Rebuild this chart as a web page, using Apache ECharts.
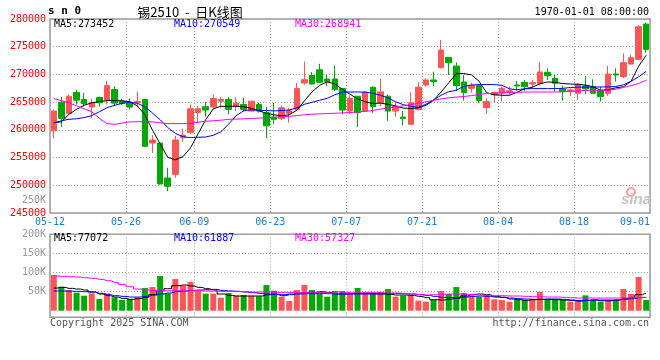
<!DOCTYPE html>
<html><head><meta charset="utf-8">
<script src="https://cdn.jsdelivr.net/npm/echarts@6/dist/echarts.min.js"></script>
<style>html,body{margin:0;padding:0;background:#fff}#c{width:660px;height:360px}</style>
</head><body><div id="c"></div>
<script>
const dates = ['05-12','05-13','05-14','05-15','05-16','05-19','05-20','05-21','05-22','05-23','05-26','05-27','05-28','05-29','05-30',
'06-03','06-04','06-05','06-06','06-09','06-10','06-11','06-12','06-13','06-16','06-17','06-18','06-19','06-20','06-23','06-24','06-25','06-26','06-27','06-30',
'07-01','07-02','07-03','07-04','07-07','07-08','07-09','07-10','07-11','07-14','07-15','07-16','07-17','07-18','07-21','07-22','07-23','07-24','07-25','07-28','07-29','07-30','07-31',
'08-01','08-04','08-05','08-06','08-07','08-08','08-11','08-12','08-13','08-14','08-15','08-18','08-19','08-20','08-21','08-22','08-25','08-26','08-27','08-28','08-29'];

const opens = [259820,265000,262980,266730,265480,264110,265830,265360,267260,265180,
265000,264880,265480,257620,257620,251310,251970,258570,259530,263100,
264170,264110,265180,265480,264290,264580,263390,264580,263100,262320,
262030,262980,263690,268450,269820,270830,269170,269170,267440,263390,
266070,263390,267680,264880,266070,263390,262320,261010,263690,268100,
269000,271220,273080,271520,268640,267500,267980,264020,266300,266600,
266900,268100,268580,268280,268400,270380,269300,267380,266900,266600,
267920,267800,267080,266600,270080,269600,271880,272720,279080];
const closes = [263390,262080,266070,265360,264700,264880,264880,267980,264820,264760,
264110,265120,257030,258160,250240,249820,258160,259050,263810,263810,
263570,265660,265480,263690,264820,263690,265180,263390,260720,261910,
263990,263510,267440,269050,268270,268570,268690,267260,263570,265660,
263100,266790,264170,266850,263390,264290,262030,264880,267680,269000,
268700,274400,272120,267980,266720,268040,265280,265100,266720,267500,
267080,267920,267800,268520,270440,269780,268400,266900,267200,268220,
267380,266600,266000,270080,269900,272120,273020,278600,274520];
const lows = [258450,260540,262800,264580,264290,262030,264170,264580,264290,264470,
263690,264290,256900,255830,250120,248930,251370,257860,259290,261310,
262380,263990,263990,262800,263390,263270,263220,263100,258510,261010,
261790,261310,263390,268160,268160,268450,267860,266970,262800,262920,
260540,263220,263100,264290,261610,262380,260830,260890,263510,267800,
267920,271100,269900,267020,265280,266720,264800,262880,264980,265100,
266300,267080,267080,267500,268100,269000,266900,265280,266120,265400,
266420,266480,265100,266120,268700,269300,271700,272600,273920];
const highs = [263690,265950,266370,267260,266670,265600,266000,268870,267860,265600,
265660,266910,265600,259050,257700,253160,258930,260240,264580,264290,
265060,266370,265890,265890,265890,265770,265180,264880,264110,264880,
264410,263990,268450,272320,270420,271910,269940,271610,267440,266190,
266070,266970,267860,269170,266370,265000,263390,266790,268570,269300,
270500,276200,273080,272180,269900,268520,268100,265700,266900,267800,
267800,268820,269000,269000,272240,271100,269900,267980,267500,268400,
269720,269120,267800,271520,271100,273800,273500,278900,279320];
const volumes = [93380,62830,54110,47130,39270,45380,30550,45380,34910,27930,
30550,34910,59340,61960,90760,45380,82910,65450,75050,51490,
44510,44510,34040,46250,39270,41020,39270,37530,67200,52360,
36650,25310,54110,67200,54110,43640,36650,51490,51490,43640,
59340,47130,47130,48870,56730,36650,39270,41020,26180,23560,
27930,51490,43640,61960,46250,40140,36650,41020,29670,27930,
23560,29670,27930,31420,48870,29670,29670,29670,23560,27930,
40140,27930,23560,27930,27930,56730,43640,88140,27930];
const ma5 = [261270,261460,262810,263710,264430,264880,265100,265280,265280,265240,
265060,264340,262720,259920,257490,255050,254600,255140,256760,259290,
261820,263800,264250,264250,264250,264160,263890,263440,262990,262720,
262540,262720,263530,265240,266830,268040,268640,268310,267320,266420,
265600,265060,264760,264830,264610,264310,263940,263850,263980,264430,
265330,266830,268490,270150,270150,269930,268760,266690,266330,266240,
266240,266780,267410,267680,268310,268640,268580,268350,268270,268220,
268090,267770,267140,267230,267590,267770,268760,271470,273450];
const ma10 = [261270,261640,261910,262000,262210,262570,263260,263980,264430,264790,
264970,264790,264160,263040,261820,260410,259380,258750,258610,258660,
258710,259020,259650,261000,262540,263440,263620,263530,263480,263420,
263480,263580,263980,264610,264970,265330,265690,266330,266780,266830,
266830,266800,266610,266240,265750,265060,264560,264250,264070,264610,
265390,266240,266900,267140,267860,268090,268170,268170,268170,268040,
267410,267230,267410,267440,267440,267440,267440,267500,267630,267720,
267730,267730,267730,267750,267820,268130,268760,269570,270550];
const ma30 = [265640,265280,264880,264340,263800,263260,262090,261130,260990,261220,
261440,261470,261470,261440,261270,261130,261130,261130,261180,261370,
261550,261640,261740,261890,261940,262000,262050,262120,262180,262270,
262360,262450,262570,262720,262830,262880,262950,262990,263060,263120,
263220,263330,263490,263750,263930,264130,264340,264560,264790,265060,
265330,265590,265780,265910,266020,266180,266360,266540,266610,266690,
266740,266780,266810,266830,266830,266830,266830,266870,266960,267030,
267120,267140,267140,267170,267350,267640,267970,268360,268940];
const volMa5 = [59340,61090,58470,56730,54110,48870,43640,39270,35780,32290,
29670,31420,34910,41890,52360,57600,65450,67200,64580,61090,
57600,54110,43640,40140,38400,38400,38400,38400,41890,42760,
39270,41890,46250,47130,48000,49740,48000,43640,43640,44510,
45380,45380,44510,43640,42760,41020,41020,40140,37530,34040,
28800,27930,30550,33160,38400,42760,43640,41890,37530,34910,
30550,28800,27050,28800,29670,29670,28800,27930,27050,25310,
27050,27930,26180,26180,27930,31420,34910,41890,46250];
const volMa10 = [51490,51490,51050,50620,49740,48870,45380,41890,39270,37530,
35780,35780,37530,41020,43640,46250,49740,51490,53240,54110,
54980,55850,53240,51490,50620,48870,47130,45380,43640,42760,
41890,43640,43640,44510,44510,45380,44510,43640,43640,43640,
43640,43640,43640,44510,45380,45380,44510,43640,41890,40140,
37530,34910,34040,33160,35780,37530,38400,37530,35780,34910,
33160,31420,30550,29670,29670,30550,30550,29670,27930,26180,
27050,27930,27930,27930,27930,29670,31420,34040,34910];
const volMa30 = [90760,89890,89020,88140,86400,84650,82030,78540,74180,68940,
62830,56730,54110,53240,52360,52360,52360,52360,52360,52360,
51490,51490,50620,50620,50620,49740,48870,48870,48870,48000,
48000,48000,47130,47130,48000,48000,46250,46250,47130,47130,
47130,48000,48000,47130,46250,46250,45380,43640,42760,41020,
41890,42760,43640,43640,42760,41890,41020,40140,39270,39270,
38400,38400,37530,36650,36650,35780,35780,34910,34040,33160,
33160,33160,33160,33160,33160,33160,34040,34910,34910];

const dateTickLabels = ['05-12','05-26','06-09','06-23','07-07','07-21','08-04','08-18','09-01'];
const priceMin = 245000, priceMax = 280000, priceStep = 5000;
const volTickValues = [50000,100000,150000,200000];
const volTickLabels = ['50K','100K','150K','200K'];
const mainLegend = ['MA5:273452','MA10:270549','MA30:268941'];
const volLegend = ['MA5:77072','MA10:61887','MA30:57327'];

const tickPos = dateTickLabels.map(l => { const k = dates.indexOf(l); return k < 0 ? dates.length : k; });
const candle = dates.map((d, i) => [opens[i], closes[i], lows[i], highs[i]]);
const isUp = i => closes[i] >= opens[i];

const MONO = '"DejaVu Sans Mono", monospace';
const UP = '#ff5555', DOWN = '#00aa00';
const maColors = ['#000000', '#0000ff', '#ff00ff'];
const gridLine = { show: true, lineStyle: { color: '#aaaaaa', type: [1, 2], width: 1 } };

function maSeries(data, color, xi, yi, step) {
  return { type: 'line', xAxisIndex: xi, yAxisIndex: yi, data: data, showSymbol: false, symbol: 'none',
    step: step || false, silent: true, z: 5, lineStyle: { color: color, width: 1 } };
}
function txt(s, x, y, color, align, font) {
  return { type: 'text', x: x, y: y, silent: true, z: 100,
    style: { text: s, fill: color, align: align || 'left', verticalAlign: 'middle', font: font || ('10px ' + MONO) } };
}

const chart = echarts.init(document.getElementById('c'), null, { renderer: 'canvas' });
chart.setOption({
  animation: false,
  backgroundColor: '#ffffff',
  grid: [
    { left: 50, top: 19, width: 600, height: 194, show: true, borderColor: '#999', borderWidth: 1.5 },
    { left: 50, top: 234.3, width: 600, height: 83, show: true, borderColor: '#999', borderWidth: 1.5 }
  ],
  xAxis: [
    { type: 'category', gridIndex: 0, data: dates, boundaryGap: true, show: false, position: 'top' },
    { type: 'value', gridIndex: 0, min: 0, max: dates.length, position: 'bottom',
      axisLine: { show: false }, axisTick: { show: false, customValues: tickPos },
      axisLabel: { customValues: tickPos, formatter: v => { const k = tickPos.indexOf(v); return k < 0 ? '' : dateTickLabels[k]; },
        color: '#1a7fd4', fontFamily: MONO, fontSize: 10, margin: 4, alignMaxLabel: 'right' },
      splitLine: gridLine },
    { type: 'category', gridIndex: 1, data: dates, boundaryGap: true, show: false, position: 'top' },
    { type: 'value', gridIndex: 1, min: 0, max: dates.length, position: 'bottom',
      axisLine: { show: false }, axisTick: { show: false, customValues: tickPos },
      axisLabel: { show: false, customValues: tickPos }, splitLine: gridLine }
  ],
  yAxis: [
    { type: 'value', gridIndex: 0, min: priceMin, max: priceMax, interval: priceStep,
      axisLine: { show: false }, axisTick: { show: false },
      axisLabel: { color: '#ff0000', fontFamily: MONO, fontSize: 10, margin: 4, formatter: v => String(v) }, splitLine: gridLine },
    { type: 'value', gridIndex: 1, min: -17280, max: 200000,
      axisLine: { show: false }, axisTick: { show: false, customValues: volTickValues },
      axisLabel: { customValues: volTickValues, formatter: v => { const k = volTickValues.indexOf(v); return k < 0 ? '' : volTickLabels[k]; },
        color: '#999999', fontFamily: MONO, fontSize: 10, margin: 4 },
      splitLine: gridLine }
  ],
  series: [
    { type: 'candlestick', xAxisIndex: 0, yAxisIndex: 0, data: candle, barWidth: 6, z: 3,
      itemStyle: { color: UP, color0: DOWN, borderColor: UP, borderColor0: DOWN, borderWidth: 1 } },
    maSeries(ma5, maColors[0], 0, 0),
    maSeries(ma10, maColors[1], 0, 0),
    maSeries(ma30, maColors[2], 0, 0),
    { type: 'bar', xAxisIndex: 2, yAxisIndex: 1, barWidth: 6, z: 3,
      data: volumes.map((v, i) => ({ value: v, itemStyle: { color: isUp(i) ? UP : DOWN } })) },
    maSeries(volMa5, maColors[0], 2, 1, 'middle'),
    maSeries(volMa10, maColors[1], 2, 1, 'middle'),
    maSeries(volMa30, maColors[2], 2, 1, 'middle')
  ],
  graphic: [
    txt('s n 0', 48, 11.5, '#000', 'left', 'bold 11px ' + MONO),
    txt('锡2510  -  日K线图', 190, 12, '#000', 'center', '13px "Noto Sans CJK SC"'),
    txt('1970-01-01 08:00:00', 649, 12, '#000', 'right'),
    txt(mainLegend[0], 54, 24, maColors[0]),
    txt(mainLegend[1], 174, 24, maColors[1]),
    txt(mainLegend[2], 295, 24, maColors[2]),
    txt(volLegend[0], 54, 238.5, maColors[0]),
    txt(volLegend[1], 174, 238.5, maColors[1]),
    txt(volLegend[2], 295, 238.5, maColors[2]),
    txt('250K', 46, 200.5, '#999999', 'right'),
    txt('Copyright 2025 SINA.COM', 50, 323.5, '#555555'),
    txt('http://finance.sina.com.cn', 649, 323.5, '#555555', 'right'),
    { type: 'circle', shape: { cx: 631, cy: 192, r: 4 }, silent: true, z: 1,
      style: { fill: 'none', stroke: '#f7a0a0', lineWidth: 2 } },
    txt('sina', 651, 200, '#c4c4c4', 'right', 'italic bold 15px Arial')
  ]
});
</script></body></html>
